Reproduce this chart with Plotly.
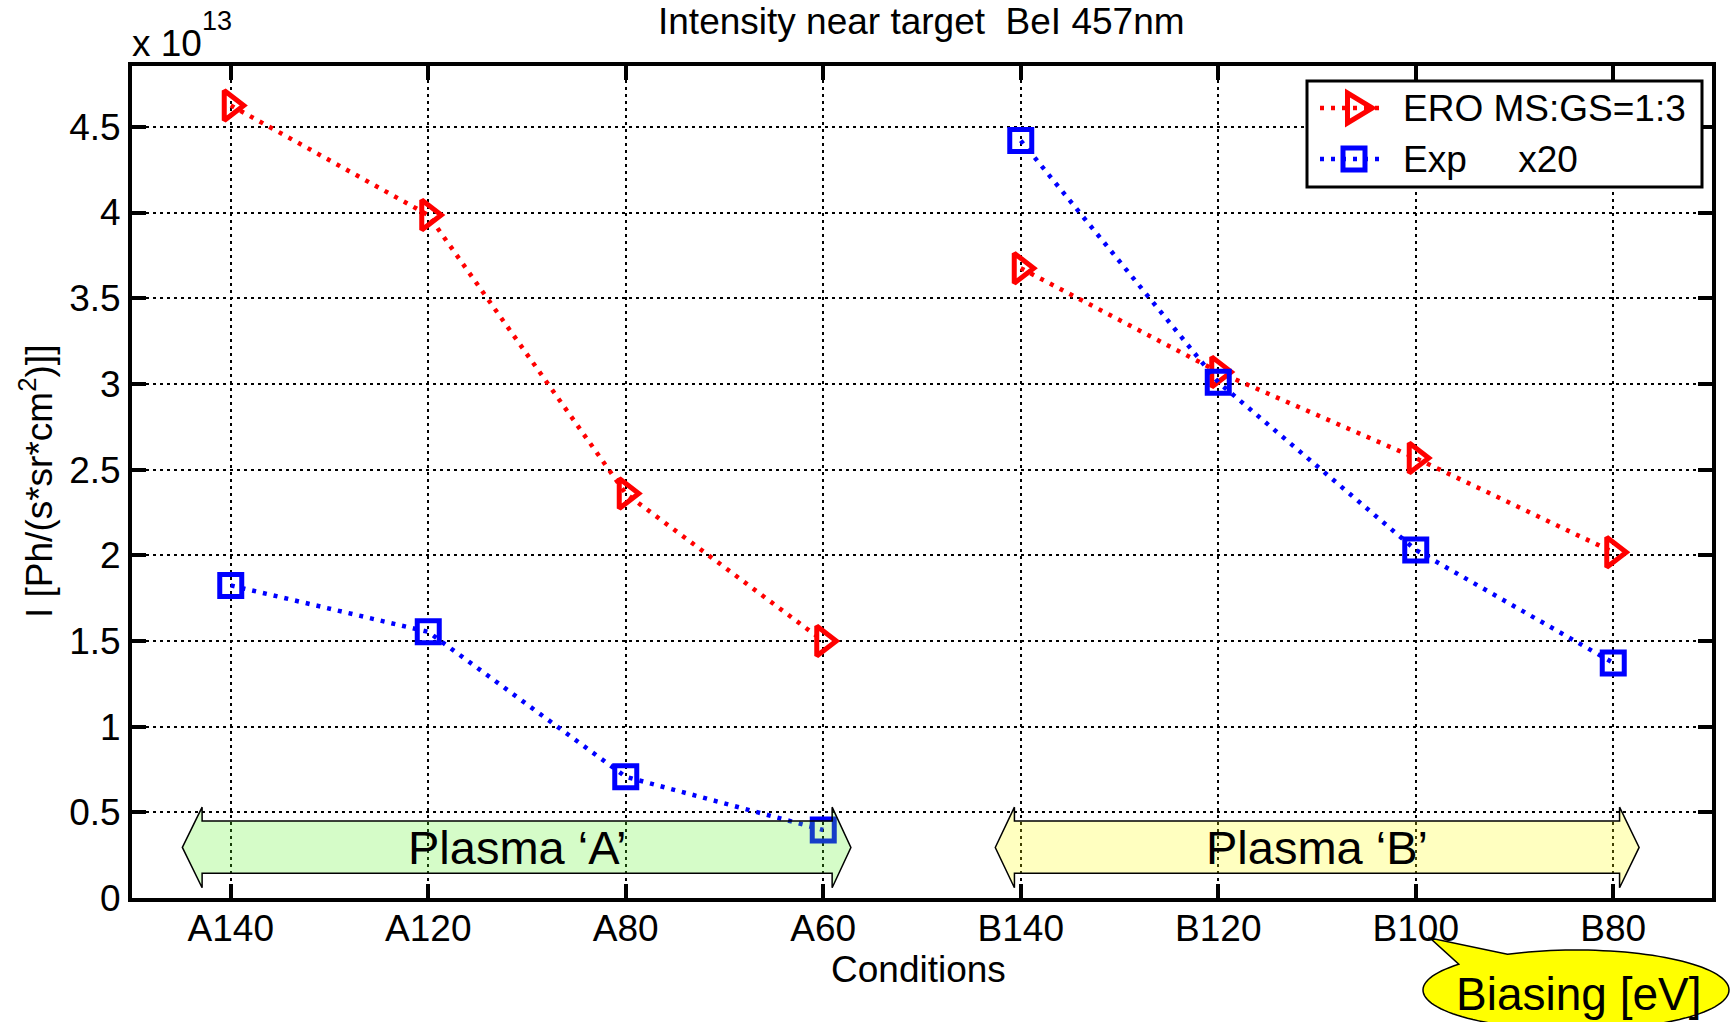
import numpy as np
import plotly.graph_objects as go

# Conditions along the x axis (plasma type + biasing)
conditions = ["A140", "A120", "A80", "A60", "B140", "B120", "B100", "B80"]

# Line intensity near target, in units of 1e13 Ph/(s*sr*cm^2)
ero_ms_gs = [4.625, 3.985, 2.36, 1.50, 3.675, 3.07, 2.567, 2.018]
exp_x20 = [1.824, 1.553, 0.707, 0.397, 4.42, 3.01, 2.031, 1.372]

series_names = ["ERO MS:GS=1:3", "Exp\u00a0\u00a0\u00a0\u00a0\u00a0x20"]

y_ticks = [0, 0.5, 1, 1.5, 2, 2.5, 3, 3.5, 4, 4.5]

x_pos = np.arange(1, len(conditions) + 1)

# Figure / plot area geometry (pixels)
W, H = 1735, 1022
L, R, T, B = 132, 1712, 66, 898
FONT = "Liberation Sans, Arial, sans-serif"

RED, BLUE = "#ff0000", "#0000ff"
LINE_W, LINE_DASH = 4.5, "4px,7px"
TRI_SIZE, SQ_SIZE, MK_LW = 26, 22, 5


def px_x(px):
    return (px - L) / (R - L)


def px_y(py):
    return (B - py) / (B - T)


def split_by_plasma(values):
    """Insert a gap between the plasma A and plasma B conditions."""
    xs, ys = [], []
    for i, (cond, v) in enumerate(zip(conditions, values)):
        if i > 0 and cond[0] != conditions[i - 1][0]:
            xs.append(None)
            ys.append(None)
        xs.append(x_pos[i])
        ys.append(v)
    return xs, ys


fig = go.Figure()

xs, ys = split_by_plasma(ero_ms_gs)
fig.add_trace(go.Scatter(
    x=xs, y=ys, name=series_names[0], mode="lines+markers", connectgaps=False,
    line=dict(color=RED, width=LINE_W, dash=LINE_DASH),
    marker=dict(symbol="triangle-right-open", size=TRI_SIZE, color=RED,
                line=dict(width=MK_LW, color=RED)),
))
xs, ys = split_by_plasma(exp_x20)
fig.add_trace(go.Scatter(
    x=xs, y=ys, name=series_names[1], mode="lines+markers", connectgaps=False,
    line=dict(color=BLUE, width=LINE_W, dash=LINE_DASH),
    marker=dict(symbol="square-open", size=SQ_SIZE, color=BLUE,
                line=dict(width=MK_LW, color=BLUE)),
))


def double_arrow(x_tip_l, x_base_l, x_base_r, x_tip_r,
                 y_shaft_b, y_shaft_t, y_head_b, y_head_t):
    yc = 0.5 * (y_head_b + y_head_t)
    pts = [(x_tip_l, yc), (x_base_l, y_head_t), (x_base_l, y_shaft_t),
           (x_base_r, y_shaft_t), (x_base_r, y_head_t), (x_tip_r, yc),
           (x_base_r, y_head_b), (x_base_r, y_shaft_b), (x_base_l, y_shaft_b),
           (x_base_l, y_head_b)]
    return "M " + " L ".join(f"{x:.4f},{y:.4f}" for x, y in pts) + " Z"


# Plasma bands drawn as translucent double-headed arrows
fig.add_shape(type="path", xref="x", yref="y", layer="above",
              path=double_arrow(0.755, 0.855, 4.045, 4.14, 0.145, 0.45, 0.06, 0.53),
              fillcolor="rgba(87,243,35,0.25)", line=dict(color="black", width=1.5))
fig.add_shape(type="path", xref="x", yref="y", layer="above",
              path=double_arrow(4.871, 4.968, 8.032, 8.131, 0.145, 0.45, 0.06, 0.53),
              fillcolor="rgba(255,255,3,0.25)", line=dict(color="black", width=1.5))

fig.add_annotation(x=2.45, y=0.293, xref="x", yref="y", text="Plasma \u2018A\u2019",
                   xanchor="center", yanchor="middle", showarrow=False,
                   font=dict(size=47, color="black", family=FONT))
fig.add_annotation(x=6.5, y=0.293, xref="x", yref="y", text="Plasma \u2018B\u2019",
                   xanchor="center", yanchor="middle", showarrow=False,
                   font=dict(size=47, color="black", family=FONT))

# Speech-bubble callout for the biasing label
cx, cy, rx, ry = 1576, 990, 153, 40
tip = (1430, 938)
th = np.radians(np.linspace(-116.6, 220, 120))
ex = cx + rx * np.cos(th)
ey = cy + ry * np.sin(th)
bubble = [(px_x(a), px_y(b)) for a, b in zip(ex, ey)] + [(px_x(tip[0]), px_y(tip[1]))]
bubble_path = "M " + " L ".join(f"{a:.5f},{b:.5f}" for a, b in bubble) + " Z"
fig.add_shape(type="path", xref="paper", yref="paper", layer="above",
              path=bubble_path, fillcolor="#ffff00", line=dict(color="black", width=1.5))
fig.add_annotation(x=px_x(1578), y=px_y(994), xref="paper", yref="paper",
                   xanchor="center", yanchor="middle",
                   text="Biasing [eV]", showarrow=False,
                   font=dict(size=46, color="black", family=FONT))

# Title, axis titles, exponent
fig.add_annotation(x=px_x(921), y=px_y(22), xref="paper", yref="paper",
                   xanchor="center", yanchor="middle",
                   text="Intensity near target \u00a0BeI 457nm", showarrow=False,
                   font=dict(size=37, color="black", family=FONT))
fig.add_annotation(x=px_x(918), y=px_y(970), xref="paper", yref="paper",
                   xanchor="center", yanchor="middle",
                   text="Conditions", showarrow=False,
                   font=dict(size=37, color="black", family=FONT))
fig.add_annotation(x=px_x(36), y=px_y(482), xref="paper", yref="paper",
                   xanchor="center", yanchor="middle",
                   text="I [Ph/(s*sr*cm<sup>2</sup>)]]", textangle=-90, showarrow=False,
                   font=dict(size=37, color="black", family=FONT))
fig.add_annotation(x=px_x(130), y=px_y(44), xref="paper", yref="paper",
                   xanchor="left", yanchor="middle",
                   text="x 10", showarrow=False,
                   font=dict(size=37, color="black", family=FONT))
fig.add_annotation(x=px_x(200), y=px_y(21), xref="paper", yref="paper",
                   xanchor="left", yanchor="middle",
                   text="13", showarrow=False,
                   font=dict(size=27, color="black", family=FONT))

# Legend box with line samples, marker keys and labels
lg_x0, lg_x1, lg_y0, lg_y1 = 1307, 1702, 81, 187
rows_y = [108, 159]
sample_x0, sample_x1, key_x, text_x = 1320, 1386, 1354, 1401
fig.add_shape(type="rect", xref="paper", yref="paper", layer="above",
              x0=px_x(lg_x0), x1=px_x(lg_x1), y0=px_y(lg_y1), y1=px_y(lg_y0),
              fillcolor="white", line=dict(color="black", width=3))
for ry_, col in zip(rows_y, [RED, BLUE]):
    fig.add_shape(type="line", xref="paper", yref="paper", layer="above",
                  x0=px_x(sample_x0), x1=px_x(sample_x1), y0=px_y(ry_), y1=px_y(ry_),
                  line=dict(color=col, width=LINE_W, dash=LINE_DASH))

# triangle-right key (same geometry as plotly's triangle-right symbol)
r = TRI_SIZE / 2
rt, r2, rs = r * 2 / np.sqrt(3), r / 2, r * np.sqrt(2)
tri = [(key_x - r2, rows_y[0] - rt), (key_x - r2, rows_y[0] + rt), (key_x + rs, rows_y[0])]
fig.add_shape(type="path", xref="paper", yref="paper", layer="above",
              path="M " + " L ".join(f"{px_x(a):.5f},{px_y(b):.5f}" for a, b in tri) + " Z",
              fillcolor="rgba(0,0,0,0)", line=dict(color=RED, width=MK_LW))
h = SQ_SIZE / 2
fig.add_shape(type="rect", xref="paper", yref="paper", layer="above",
              x0=px_x(key_x - h), x1=px_x(key_x + h),
              y0=px_y(rows_y[1] + h), y1=px_y(rows_y[1] - h),
              fillcolor="rgba(0,0,0,0)", line=dict(color=BLUE, width=MK_LW))
for ry_, name in zip(rows_y, series_names):
    fig.add_annotation(x=px_x(text_x), y=px_y(ry_), xref="paper", yref="paper",
                       xanchor="left", yanchor="middle", text=name, showarrow=False,
                       font=dict(size=37, color="black", family=FONT))

axis_common = dict(
    showline=True, linecolor="black", linewidth=4, mirror="ticks",
    ticks="inside", ticklen=14, tickwidth=4, tickcolor="black",
    showgrid=True, gridcolor="black", gridwidth=2, griddash="3px,4px",
    zeroline=False, automargin=False,
    tickfont=dict(size=37, color="black", family=FONT),
)

fig.update_xaxes(range=[0.5, 8.5], tickmode="array", tickvals=x_pos,
                 ticktext=conditions, ticklabelstandoff=-5, **axis_common)
fig.update_yaxes(range=[0, 4.855], tickmode="array", tickvals=y_ticks,
                 **axis_common)

fig.update_layout(
    width=W, height=H, autosize=False,
    margin=dict(l=L, r=W - R, t=T, b=H - B, pad=0),
    paper_bgcolor="white", plot_bgcolor="white",
    font=dict(family=FONT, color="black", size=37),
    showlegend=False,
)

fig.write_html("out.html")
